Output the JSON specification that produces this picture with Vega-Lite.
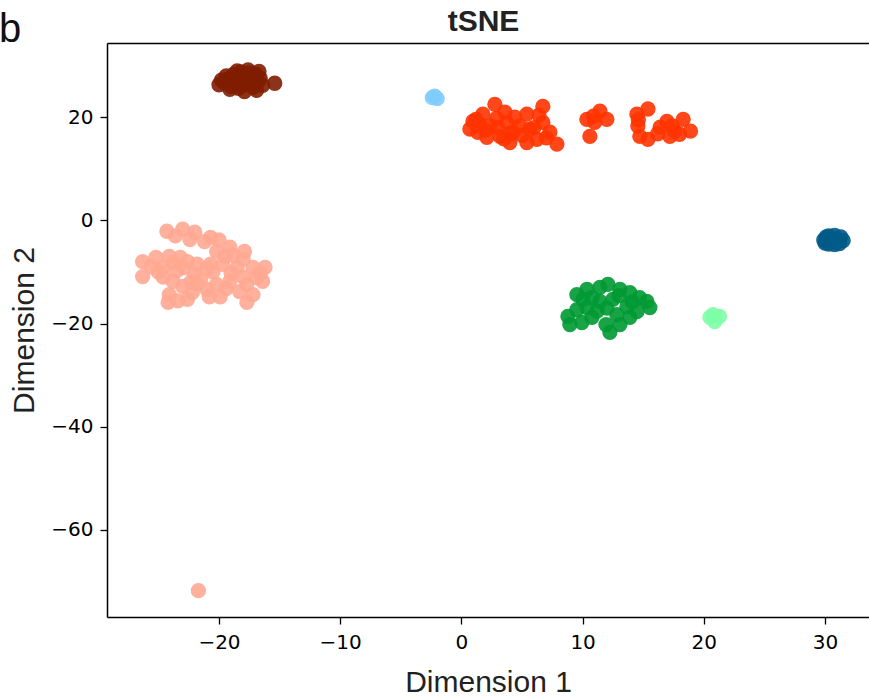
{
  "$schema": "https://vega.github.io/schema/vega-lite/v6.json",
  "width": 762,
  "height": 574,
  "autosize": {"type": "none"},
  "padding": {"left": 107, "top": 43, "right": 0, "bottom": 79},
  "background": "white",
  "title": {"text": "b", "anchor": "start", "frame": "group", "fontSize": 40, "font": "Liberation Sans", "fontWeight": "normal", "color": "#111", "dx": -108, "dy": 48},
  "config": {
    "view": {"stroke": null},
    "axis": {"domainColor": "#000", "domainWidth": 1.5, "tickColor": "#000", "tickSize": 7, "tickWidth": 1.3, "labelFont": "DejaVu Sans", "labelFontSize": 20, "labelColor": "#000", "titleFont": "Liberation Sans", "titleFontSize": 30, "titleFontWeight": "normal", "titleColor": "#222", "grid": false}
  },
  "data": {"values": [
    {"x": -20.0, "y": 26.3, "c": "A"}, {"x": -19.6, "y": 26.8, "c": "A"}, {"x": -19.2, "y": 27.5, "c": "A"}, {"x": -19.0, "y": 26.0, "c": "A"}, {"x": -18.8, "y": 28.3, "c": "A"}, {"x": -18.6, "y": 27.0, "c": "A"}, {"x": -18.4, "y": 25.6, "c": "A"}, {"x": -18.2, "y": 28.8, "c": "A"}, {"x": -18.0, "y": 27.8, "c": "A"}, {"x": -17.8, "y": 26.4, "c": "A"}, {"x": -17.6, "y": 29.2, "c": "A"}, {"x": -17.4, "y": 27.2, "c": "A"}, {"x": -17.2, "y": 25.8, "c": "A"}, {"x": -17.0, "y": 28.4, "c": "A"}, {"x": -16.8, "y": 26.8, "c": "A"}, {"x": -16.6, "y": 27.6, "c": "A"}, {"x": -16.9, "y": 25.2, "c": "A"}, {"x": -18.5, "y": 29.0, "c": "A"}, {"x": -19.4, "y": 28.0, "c": "A"}, {"x": -17.9, "y": 25.0, "c": "A"}, {"x": -16.4, "y": 26.2, "c": "A"}, {"x": -15.4, "y": 26.6, "c": "A"}, {"x": -19.8, "y": 27.2, "c": "A"}, {"x": -18.9, "y": 27.3, "c": "A"}, {"x": -17.7, "y": 27.9, "c": "A"}, {"x": -17.3, "y": 26.3, "c": "A"}, {"x": -18.1, "y": 26.1, "c": "A"}, {"x": -16.7, "y": 28.9, "c": "A"}, {"x": -19.1, "y": 25.4, "c": "A"}, {"x": -17.5, "y": 28.6, "c": "A"},

    {"x": -24.3, "y": -2.1, "c": "B"}, {"x": -23.0, "y": -1.7, "c": "B"}, {"x": -22.0, "y": -2.3, "c": "B"}, {"x": -20.7, "y": -3.3, "c": "B"}, {"x": -21.2, "y": -4.1, "c": "B"}, {"x": -22.4, "y": -3.7, "c": "B"}, {"x": -23.6, "y": -3.0, "c": "B"}, {"x": -20.0, "y": -3.8, "c": "B"},
    {"x": -26.3, "y": -8.0, "c": "B"}, {"x": -25.2, "y": -7.2, "c": "B"}, {"x": -24.1, "y": -7.0, "c": "B"}, {"x": -23.2, "y": -7.2, "c": "B"}, {"x": -22.6, "y": -8.0, "c": "B"}, {"x": -21.8, "y": -8.5, "c": "B"}, {"x": -24.6, "y": -9.1, "c": "B"}, {"x": -26.3, "y": -10.9, "c": "B"}, {"x": -25.6, "y": -9.0, "c": "B"}, {"x": -23.8, "y": -8.2, "c": "B"}, {"x": -22.9, "y": -9.2, "c": "B"},
    {"x": -19.1, "y": -5.2, "c": "B"}, {"x": -17.9, "y": -6.0, "c": "B"}, {"x": -20.2, "y": -6.0, "c": "B"}, {"x": -20.7, "y": -8.5, "c": "B"}, {"x": -19.7, "y": -8.5, "c": "B"}, {"x": -18.5, "y": -9.1, "c": "B"}, {"x": -17.2, "y": -9.1, "c": "B"}, {"x": -16.2, "y": -9.1, "c": "B"}, {"x": -16.9, "y": -11.1, "c": "B"}, {"x": -17.7, "y": -12.4, "c": "B"}, {"x": -19.1, "y": -11.8, "c": "B"}, {"x": -20.2, "y": -12.4, "c": "B"}, {"x": -16.4, "y": -11.8, "c": "B"}, {"x": -18.3, "y": -13.8, "c": "B"}, {"x": -17.7, "y": -15.9, "c": "B"}, {"x": -17.2, "y": -14.4, "c": "B"}, {"x": -19.9, "y": -14.8, "c": "B"}, {"x": -18.8, "y": -6.8, "c": "B"}, {"x": -16.6, "y": -10.3, "c": "B"}, {"x": -18.0, "y": -11.0, "c": "B"}, {"x": -19.4, "y": -13.2, "c": "B"},
    {"x": -24.1, "y": -14.4, "c": "B"}, {"x": -23.0, "y": -12.8, "c": "B"}, {"x": -21.8, "y": -12.4, "c": "B"}, {"x": -21.0, "y": -13.4, "c": "B"}, {"x": -24.2, "y": -15.9, "c": "B"}, {"x": -22.6, "y": -15.3, "c": "B"}, {"x": -22.2, "y": -14.0, "c": "B"}, {"x": -23.4, "y": -15.6, "c": "B"}, {"x": -20.8, "y": -14.8, "c": "B"},
    {"x": -23.5, "y": -9.8, "c": "B"}, {"x": -22.0, "y": -10.5, "c": "B"}, {"x": -20.5, "y": -10.0, "c": "B"}, {"x": -19.0, "y": -10.2, "c": "B"}, {"x": -21.5, "y": -11.5, "c": "B"}, {"x": -23.8, "y": -11.8, "c": "B"}, {"x": -25.0, "y": -10.0, "c": "B"}, {"x": -18.0, "y": -7.5, "c": "B"}, {"x": -19.5, "y": -7.0, "c": "B"}, {"x": -21.0, "y": -9.3, "c": "B"}, {"x": -22.3, "y": -11.9, "c": "B"}, {"x": -24.6, "y": -11.0, "c": "B"},
    {"x": -21.7, "y": -71.8, "c": "B"},

    {"x": -2.4, "y": 23.8, "c": "C"}, {"x": -2.2, "y": 24.1, "c": "C"}, {"x": -2.0, "y": 23.6, "c": "C"},

    {"x": 2.76, "y": 22.5, "c": "D"}, {"x": 1.77, "y": 20.6, "c": "D"}, {"x": 0.95, "y": 19.2, "c": "D"}, {"x": 0.7, "y": 17.7, "c": "D"}, {"x": 1.36, "y": 17.1, "c": "D"}, {"x": 2.35, "y": 18.3, "c": "D"}, {"x": 3.59, "y": 21.0, "c": "D"}, {"x": 3.75, "y": 19.0, "c": "D"}, {"x": 3.18, "y": 16.3, "c": "D"}, {"x": 4.25, "y": 17.1, "c": "D"}, {"x": 4.83, "y": 18.3, "c": "D"}, {"x": 5.4, "y": 20.6, "c": "D"}, {"x": 5.65, "y": 17.7, "c": "D"}, {"x": 6.72, "y": 22.1, "c": "D"}, {"x": 6.72, "y": 19.0, "c": "D"}, {"x": 6.23, "y": 15.7, "c": "D"}, {"x": 7.3, "y": 17.1, "c": "D"}, {"x": 7.88, "y": 14.8, "c": "D"}, {"x": 5.4, "y": 15.1, "c": "D"}, {"x": 2.1, "y": 16.1, "c": "D"}, {"x": 4.0, "y": 15.1, "c": "D"},
    {"x": 2.0, "y": 17.5, "c": "D"}, {"x": 3.0, "y": 18.0, "c": "D"}, {"x": 4.0, "y": 16.8, "c": "D"}, {"x": 1.5, "y": 18.5, "c": "D"}, {"x": 6.0, "y": 18.0, "c": "D"}, {"x": 5.0, "y": 16.5, "c": "D"}, {"x": 3.5, "y": 15.8, "c": "D"}, {"x": 2.9, "y": 19.8, "c": "D"}, {"x": 4.4, "y": 20.0, "c": "D"}, {"x": 1.2, "y": 19.6, "c": "D"}, {"x": 6.4, "y": 20.4, "c": "D"}, {"x": 7.0, "y": 16.0, "c": "D"},
    {"x": 10.6, "y": 16.3, "c": "D"}, {"x": 10.35, "y": 19.6, "c": "D"}, {"x": 11.43, "y": 21.2, "c": "D"}, {"x": 12.0, "y": 19.6, "c": "D"}, {"x": 11.0, "y": 19.0, "c": "D"}, {"x": 10.9, "y": 20.2, "c": "D"},
    {"x": 14.48, "y": 20.6, "c": "D"}, {"x": 15.39, "y": 21.6, "c": "D"}, {"x": 14.56, "y": 18.3, "c": "D"}, {"x": 14.72, "y": 16.3, "c": "D"}, {"x": 15.39, "y": 15.7, "c": "D"}, {"x": 16.4, "y": 18.1, "c": "D"}, {"x": 16.96, "y": 19.2, "c": "D"}, {"x": 17.6, "y": 17.3, "c": "D"}, {"x": 18.3, "y": 19.6, "c": "D"}, {"x": 18.9, "y": 17.3, "c": "D"}, {"x": 17.2, "y": 16.3, "c": "D"}, {"x": 18.0, "y": 16.7, "c": "D"}, {"x": 16.2, "y": 16.8, "c": "D"}, {"x": 17.4, "y": 18.3, "c": "D"}, {"x": 14.6, "y": 19.5, "c": "D"},

    {"x": 9.53, "y": -14.4, "c": "E"}, {"x": 10.36, "y": -13.4, "c": "E"}, {"x": 11.43, "y": -13.0, "c": "E"}, {"x": 12.09, "y": -12.4, "c": "E"}, {"x": 13.08, "y": -13.4, "c": "E"}, {"x": 13.9, "y": -14.0, "c": "E"}, {"x": 14.7, "y": -15.0, "c": "E"}, {"x": 15.3, "y": -15.7, "c": "E"}, {"x": 15.55, "y": -16.9, "c": "E"}, {"x": 8.79, "y": -18.6, "c": "E"}, {"x": 9.53, "y": -17.3, "c": "E"}, {"x": 10.36, "y": -16.9, "c": "E"}, {"x": 11.43, "y": -15.7, "c": "E"}, {"x": 12.5, "y": -15.3, "c": "E"}, {"x": 13.66, "y": -16.7, "c": "E"}, {"x": 14.48, "y": -17.7, "c": "E"}, {"x": 9.94, "y": -19.8, "c": "E"}, {"x": 8.95, "y": -20.2, "c": "E"}, {"x": 10.77, "y": -18.8, "c": "E"}, {"x": 11.93, "y": -20.2, "c": "E"}, {"x": 13.08, "y": -20.2, "c": "E"}, {"x": 12.25, "y": -21.7, "c": "E"}, {"x": 13.9, "y": -18.8, "c": "E"}, {"x": 10.02, "y": -15.3, "c": "E"}, {"x": 10.77, "y": -15.0, "c": "E"}, {"x": 12.83, "y": -18.3, "c": "E"}, {"x": 12.0, "y": -17.0, "c": "E"}, {"x": 11.2, "y": -17.6, "c": "E"}, {"x": 14.1, "y": -15.8, "c": "E"}, {"x": 13.0, "y": -14.6, "c": "E"},

    {"x": 20.5, "y": -18.8, "c": "F"}, {"x": 21.3, "y": -18.6, "c": "F"}, {"x": 20.9, "y": -19.6, "c": "F"}, {"x": 20.75, "y": -18.3, "c": "F"},

    {"x": 29.9, "y": -3.8, "c": "G"}, {"x": 30.3, "y": -3.0, "c": "G"}, {"x": 30.3, "y": -4.6, "c": "G"}, {"x": 30.8, "y": -2.9, "c": "G"}, {"x": 30.8, "y": -4.7, "c": "G"}, {"x": 31.3, "y": -3.2, "c": "G"}, {"x": 31.5, "y": -3.9, "c": "G"}, {"x": 31.2, "y": -4.5, "c": "G"}, {"x": 30.6, "y": -3.8, "c": "G"}, {"x": 30.0, "y": -4.4, "c": "G"}, {"x": 30.1, "y": -3.2, "c": "G"}
  ]},
  "layer": [
    {
      "mark": {"type": "circle", "size": 235, "opacity": 0.9},
      "encoding": {
        "x": {"field": "x", "type": "quantitative", "scale": {"domain": [-29.24, 33.63], "nice": false, "zero": false}, "axis": {"orient": "bottom", "values": [-20, -10, 0, 10, 20, 30], "title": "Dimension 1", "labelPadding": 8, "titlePadding": 15}},
        "y": {"field": "y", "type": "quantitative", "scale": {"domain": [-76.9, 34.4], "nice": false, "zero": false}, "axis": {"orient": "left", "values": [-60, -40, -20, 0, 20], "title": "Dimension 2", "labelPadding": 7, "titlePadding": 11}},
        "color": {"field": "c", "type": "nominal", "legend": null, "scale": {"domain": ["A", "B", "C", "D", "E", "F", "G"], "range": ["#7f1d00", "#ffa992", "#80ccff", "#ff3300", "#009933", "#7dffa6", "#005a87"]}}
      }
    },
    {
      "mark": {"type": "point", "opacity": 0},
      "encoding": {
        "x": {"field": "x", "type": "quantitative", "axis": {"orient": "top", "ticks": false, "labels": false, "title": "tSNE", "titleFontWeight": "bold", "titleFontSize": 30, "titleColor": "#222", "titleX": 376, "titlePadding": 7}},
        "y": {"field": "y", "type": "quantitative", "axis": {"orient": "left", "values": [-60, -40, -20, 0, 20], "title": "Dimension 2", "labelPadding": 7, "titlePadding": 11}}
      }
    }
  ]
}
